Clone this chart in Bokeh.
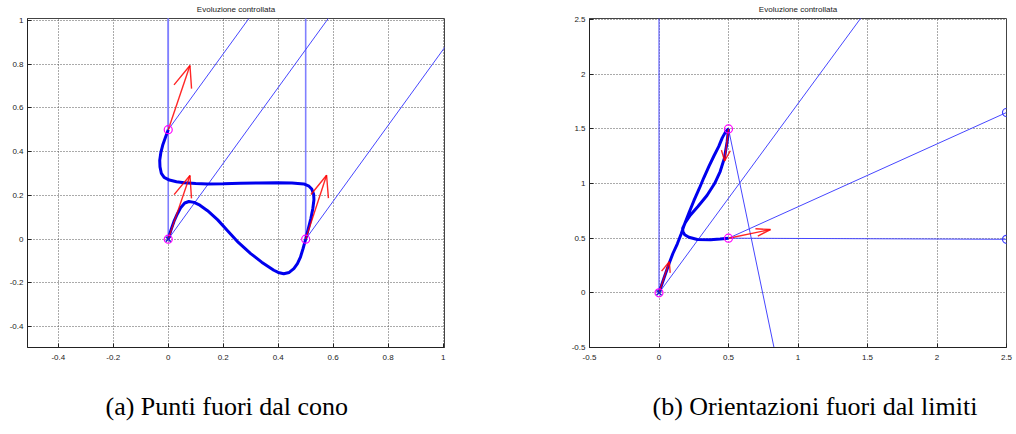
import numpy as np
from bokeh.plotting import figure
from bokeh.layouts import row
from bokeh.models import FixedTicker, Range1d, Title, LinearAxis
from bokeh.embed import file_html
from bokeh.resources import INLINE

# ---------------- texts ----------------
title_text = "Evoluzione controllata"
caption_a = "(a) Punti fuori dal cono"
caption_b = "(b) Orientazioni fuori dal limiti"

a_ticks = [-0.4, -0.2, 0, 0.2, 0.4, 0.6, 0.8, 1]
a_tick_labels = ["-0.4", "-0.2", "0", "0.2", "0.4", "0.6", "0.8", "1"]
b_ticks = [-0.5, 0, 0.5, 1, 1.5, 2, 2.5]
b_tick_labels = ["-0.5", "0", "0.5", "1", "1.5", "2", "2.5"]

# ---------------- panel (a) data ----------------
a_traj_x = [0.000, -0.010, -0.020, -0.027, -0.031, -0.030, -0.025, -0.015, 0.004, 0.030,
            0.058, 0.100, 0.143, 0.200, 0.263, 0.330, 0.396, 0.450, 0.493, 0.512,
            0.522, 0.529, 0.530, 0.526, 0.519, 0.511, 0.500, 0.490, 0.481, 0.470,
            0.457, 0.440, 0.420, 0.400, 0.384, 0.340, 0.300, 0.255, 0.215, 0.180,
            0.143, 0.115, 0.094, 0.075, 0.060, 0.046, 0.033, 0.022, 0.010, 0.000]
a_traj_y = [0.500, 0.465, 0.430, 0.395, 0.360, 0.330, 0.300, 0.282, 0.270, 0.262,
            0.258, 0.254, 0.252, 0.253, 0.255, 0.257, 0.258, 0.257, 0.252, 0.242,
            0.229, 0.205, 0.180, 0.140, 0.095, 0.055, 0.000, -0.045, -0.082, -0.112,
            -0.135, -0.152, -0.158, -0.152, -0.142, -0.105, -0.066, -0.015, 0.040, 0.088,
            0.130, 0.155, 0.168, 0.172, 0.165, 0.145, 0.115, 0.085, 0.042, 0.000]
a_way_x = [0.0, 0.0, 0.5]
a_way_y = [0.5, 0.0, 0.0]
a_cone_vertical_deg = [90, 90, 90]
a_cone_side_deg = [60, 60, 60]
a_arrow_u = [0.079, 0.079, 0.076]
a_arrow_v = [0.293, 0.291, 0.292]
a_start_x = [0.0]
a_start_y = [0.0]

# ---------------- panel (b) data ----------------
b_traj_x = [0.000, 0.036, 0.072, 0.100, 0.132, 0.160, 0.180, 0.215, 0.251, 0.290,
            0.323, 0.360, 0.395, 0.430, 0.455, 0.480, 0.500,
            0.490, 0.470, 0.440, 0.400, 0.345, 0.280, 0.225, 0.190, 0.170,
            0.172, 0.185, 0.215, 0.276, 0.371, 0.440, 0.500]
b_traj_y = [0.000, 0.135, 0.267, 0.360, 0.449, 0.540, 0.615, 0.730, 0.843, 0.955,
            1.055, 1.160, 1.252, 1.340, 1.418, 1.475, 1.500,
            1.380, 1.230, 1.110, 1.000, 0.890, 0.790, 0.710, 0.645, 0.590,
            0.560, 0.532, 0.509, 0.488, 0.485, 0.492, 0.500]
b_way_x = [0.0, 0.5, 0.5]
b_way_y = [0.0, 1.5, 0.5]
b_edge_x0 = [0.0, 0.0, 0.5, 0.5, 0.5]
b_edge_y0 = [0.0, 0.0, 1.5, 0.5, 0.5]
b_edge_x1 = [0.0, 1.60, 0.86, 2.5, 2.5]
b_edge_y1 = [3.0, 2.77, -0.70, 1.65, 0.49]
b_end_x = [2.5, 2.5]
b_end_y = [1.65, 0.49]
b_arrow_u = [0.074, -0.028, 0.302]
b_arrow_v = [0.284, -0.294, 0.079]
b_start_x = [0.0]
b_start_y = [0.0]


def quiver_lines(x, y, u, v, alpha=0.33, beta=0.33):
    xs, ys = [], []
    for x0, y0, du, dv in zip(x, y, u, v):
        tx, ty = x0 + du, y0 + dv
        b1x = tx - alpha * (du + beta * dv)
        b1y = ty - alpha * (dv - beta * du)
        b2x = tx - alpha * (du - beta * dv)
        b2y = ty - alpha * (dv + beta * du)
        xs += [[x0, tx], [b1x, tx, b2x]]
        ys += [[y0, ty], [b1y, ty, b2y]]
    return xs, ys


def style(p, ticks, labels, caption, cap_offset):
    p.background_fill_color = "white"
    p.border_fill_color = "white"
    p.outline_line_color = "#444444"
    p.outline_line_width = 1
    p.title.text = title_text
    p.title.align = "center"
    p.title.vertical_align = "top"
    p.title.text_font = "Liberation Sans"
    p.title.text_font_size = "8px"
    p.title.text_font_style = "normal"
    p.title.text_color = "#222222"
    p.title.standoff = 6
    overrides = {t: l for t, l in zip(ticks, labels)}
    for ax in (p.xaxis[0], p.yaxis[0]):
        ax.ticker = FixedTicker(ticks=ticks)
        ax.major_label_overrides = overrides
        ax.major_tick_in = 4
        ax.major_tick_out = 0
        ax.minor_tick_line_color = None
        ax.major_label_text_font = "Liberation Sans"
        ax.major_label_text_font_size = "8px"
        ax.major_label_text_color = "#222222"
        ax.major_label_standoff = 4
        ax.axis_line_color = "#222222"
        ax.major_tick_line_color = "#222222"
    p.xaxis[0].major_label_standoff = 7
    for g in (p.xgrid[0], p.ygrid[0]):
        g.grid_line_color = "#555555"
        g.grid_line_dash = "1 2"
        g.grid_line_width = 1
    # invisible band between the tick labels and the caption
    spacer = LinearAxis(ticker=FixedTicker(ticks=[ticks[0]]), axis_line_color=None,
                        major_tick_line_color=None, minor_tick_line_color=None,
                        major_tick_in=0, major_tick_out=26, minor_tick_out=0,
                        major_label_overrides={ticks[0]: ""}, major_label_standoff=0)
    p.add_layout(spacer, "below")
    cap = Title(text=caption, align="left", text_font="Liberation Serif",
                text_font_size="26px", text_font_style="normal", text_color="black",
                standoff=3, offset=cap_offset)
    p.add_layout(cap, "below")


# ---------------- figure (a) ----------------
pa = figure(width=508, height=434, x_range=Range1d(-0.512, 1.005), y_range=Range1d(-0.495, 1.008),
            min_border_left=27, min_border_right=64, min_border_top=18, min_border_bottom=87,
            output_backend="svg", toolbar_location=None)
style(pa, a_ticks, a_tick_labels, caption_a, 78)

L = 2.0
vx0, vy0, vx1, vy1 = [], [], [], []
sx0, sy0, sx1, sy1 = [], [], [], []
for x0, y0, d1, d2 in zip(a_way_x, a_way_y, a_cone_vertical_deg, a_cone_side_deg):
    vx0.append(x0); vy0.append(y0)
    vx1.append(x0 + L * np.cos(np.radians(d1))); vy1.append(y0 + L * np.sin(np.radians(d1)))
    sx0.append(x0); sy0.append(y0)
    sx1.append(x0 + L * np.cos(np.radians(d2))); sy1.append(y0 + L * np.sin(np.radians(d2)))
pa.segment(vx0, vy0, vx1, vy1, line_color="#8080ff", line_width=1.6)
pa.segment(sx0, sy0, sx1, sy1, line_color="#4646ff", line_width=1)
pa.line(a_traj_x, a_traj_y, line_color="#0000ee", line_width=3)
qx, qy = quiver_lines(a_way_x, a_way_y, a_arrow_u, a_arrow_v)
pa.multi_line(qx, qy, line_color="#ff0000", line_width=1.4, line_alpha=0.85)
pa.scatter(a_way_x, a_way_y, marker="circle", size=8, fill_color=None, line_color="#ff00ff", line_width=1.2)
pa.scatter(a_start_x, a_start_y, marker="x", size=7, line_color="#2020cc", line_width=1.5)

# ---------------- figure (b) ----------------
pb = figure(width=508, height=434, x_range=Range1d(-0.5, 2.5), y_range=Range1d(-0.5, 2.51),
            min_border_left=81, min_border_right=10, min_border_top=18, min_border_bottom=87,
            output_backend="svg", toolbar_location=None)
style(pb, b_ticks, b_tick_labels, caption_b, 63)

pb.segment(b_edge_x0, b_edge_y0, b_edge_x1, b_edge_y1, line_color="#4646ff", line_width=1)
pb.line(b_traj_x, b_traj_y, line_color="#0000ee", line_width=3)
qx, qy = quiver_lines(b_way_x, b_way_y, b_arrow_u, b_arrow_v)
pb.multi_line(qx, qy, line_color="#ff0000", line_width=1.4, line_alpha=0.85)
pb.scatter(b_end_x, b_end_y, marker="circle", size=8, fill_color=None, line_color="#3c3cff", line_width=1.2)
pb.scatter(b_way_x, b_way_y, marker="circle", size=8, fill_color=None, line_color="#ff00ff", line_width=1.2)
pb.scatter(b_start_x, b_start_y, marker="x", size=7, line_color="#2020cc", line_width=1.5)

layout = row(pa, pb)
open("out.html", "w").write(file_html(layout, INLINE))
